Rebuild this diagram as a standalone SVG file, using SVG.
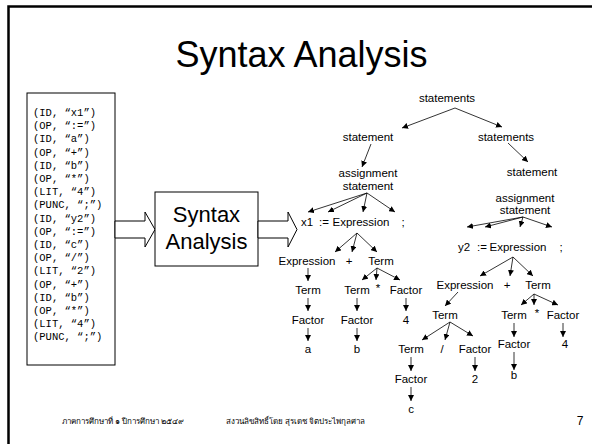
<svg xmlns="http://www.w3.org/2000/svg" width="592" height="444" viewBox="0 0 592 444">
<defs>
<marker id="ah" markerUnits="userSpaceOnUse" markerWidth="7" markerHeight="6" refX="6" refY="3" orient="auto">
<path d="M0,0 L6,3 L0,6 Z" fill="#000"/>
</marker>
<style>
.t{font-family:"Liberation Sans",Arial,sans-serif;font-size:11.5px;fill:#000;text-anchor:middle}
.m{font-family:"Liberation Mono","Courier New",monospace;font-size:10.5px;fill:#000}
.c line{stroke:#000;stroke-width:0.8;marker-end:url(#ah)}
.th{font-family:"Noto Sans","DejaVu Sans",sans-serif;font-size:8px;fill:#000}
</style>
</defs>
<rect width="592" height="444" fill="#fff"/>
<path d="M8.5,444 V6.5 H592" fill="none" stroke="#000" stroke-width="2.5"/>
<text x="301.5" y="67" style="font-family:'Liberation Sans',Arial,sans-serif;font-size:36px;text-anchor:middle">Syntax Analysis</text>

<g id="tokens">
<rect x="27" y="93" width="88" height="272" fill="#fff" stroke="#000" stroke-width="1"/>
<text class="m" x="33" y="116">(ID, “x1”)</text>
<text class="m" x="33" y="129.2">(OP, “:=”)</text>
<text class="m" x="33" y="142.4">(ID, “a”)</text>
<text class="m" x="33" y="155.6">(OP, “+”)</text>
<text class="m" x="33" y="168.8">(ID, “b”)</text>
<text class="m" x="33" y="182">(OP, “*”)</text>
<text class="m" x="33" y="195.2">(LIT, “4”)</text>
<text class="m" x="33" y="208.4">(PUNC, “;”)</text>
<text class="m" x="33" y="221.6">(ID, “y2”)</text>
<text class="m" x="33" y="234.8">(OP, “:=”)</text>
<text class="m" x="33" y="248">(ID, “c”)</text>
<text class="m" x="33" y="261.2">(OP, “/”)</text>
<text class="m" x="33" y="274.4">(LIT, “2”)</text>
<text class="m" x="33" y="287.6">(OP, “+”)</text>
<text class="m" x="33" y="300.8">(ID, “b”)</text>
<text class="m" x="33" y="314">(OP, “*”)</text>
<text class="m" x="33" y="327.2">(LIT, “4”)</text>
<text class="m" x="33" y="340.4">(PUNC, “;”)</text>
</g>

<g id="arrow-in"><polygon points="115,221 145,221 145,212 155,229.5 145,247 145,238 115,238" fill="#fff" stroke="#000" stroke-width="1"/></g>
<g id="analyzer">
<rect x="155" y="192" width="103" height="74" fill="#fff" stroke="#000" stroke-width="1"/>
<text x="206.5" y="222" style="font-family:'Liberation Sans',Arial,sans-serif;font-size:22px;text-anchor:middle">Syntax</text>
<text x="206.5" y="249" style="font-family:'Liberation Sans',Arial,sans-serif;font-size:22px;text-anchor:middle">Analysis</text>
</g>
<g id="arrow-out"><polygon points="258,221 288,221 288,212 297,229.5 288,247 288,238 258,238" fill="#fff" stroke="#000" stroke-width="1"/></g>

<g id="tree">
<text class="t" x="447" y="102">statements</text>
<text class="t" x="368" y="141">statement</text>
<text class="t" x="506" y="141">statements</text>
<text class="t" x="368" y="177">assignment</text>
<text class="t" x="368" y="190">statement</text>
<text class="t" x="532" y="176">statement</text>
<text class="t" x="525" y="202">assignment</text>
<text class="t" x="525" y="214">statement</text>
<text class="t" x="307" y="226">x1</text>
<text class="t" x="324" y="226">:=</text>
<text class="t" x="361" y="226">Expression</text>
<text class="t" x="403" y="226">;</text>
<text class="t" x="307" y="265">Expression</text>
<text class="t" x="349" y="265">+</text>
<text class="t" x="381" y="265">Term</text>
<text class="t" x="308" y="294">Term</text>
<text class="t" x="357" y="294">Term</text>
<text class="t" x="378" y="292">*</text>
<text class="t" x="406" y="294">Factor</text>
<text class="t" x="308" y="324">Factor</text>
<text class="t" x="357" y="324">Factor</text>
<text class="t" x="406" y="324">4</text>
<text class="t" x="308" y="353">a</text>
<text class="t" x="357" y="353">b</text>
<text class="t" x="464" y="251">y2</text>
<text class="t" x="482" y="251">:=</text>
<text class="t" x="518" y="251">Expression</text>
<text class="t" x="561" y="251">;</text>
<text class="t" x="465" y="289">Expression</text>
<text class="t" x="507" y="289">+</text>
<text class="t" x="538" y="289">Term</text>
<text class="t" x="445" y="319">Term</text>
<text class="t" x="514" y="319">Term</text>
<text class="t" x="537" y="317">*</text>
<text class="t" x="563" y="319">Factor</text>
<text class="t" x="411" y="353">Term</text>
<text class="t" x="442" y="353">/</text>
<text class="t" x="475" y="353">Factor</text>
<text class="t" x="514" y="348">Factor</text>
<text class="t" x="565" y="348">4</text>
<text class="t" x="411" y="383">Factor</text>
<text class="t" x="475" y="383">2</text>
<text class="t" x="514" y="379">b</text>
<text class="t" x="411" y="413">c</text>
</g>

<g id="connectors" class="c">
<line x1="455" y1="108" x2="402" y2="128"/>
<line x1="455" y1="108" x2="502" y2="127"/>
<line x1="371" y1="144" x2="362" y2="167"/>
<line x1="367" y1="193" x2="308" y2="212"/>
<line x1="367" y1="193" x2="328" y2="212"/>
<line x1="367" y1="193" x2="363" y2="212"/>
<line x1="367" y1="193" x2="395" y2="212"/>
<line x1="508" y1="143" x2="528" y2="162"/>
<line x1="523" y1="217" x2="467" y2="227"/>
<line x1="523" y1="217" x2="485" y2="227"/>
<line x1="523" y1="217" x2="520" y2="227"/>
<line x1="523" y1="217" x2="552" y2="227"/>
<line x1="357" y1="233" x2="335" y2="252"/>
<line x1="357" y1="233" x2="352" y2="252"/>
<line x1="357" y1="233" x2="377" y2="252"/>
<line x1="308" y1="268" x2="308" y2="281"/>
<line x1="308" y1="298" x2="308" y2="311"/>
<line x1="308" y1="328" x2="308" y2="341"/>
<line x1="377" y1="268" x2="362" y2="280"/>
<line x1="377" y1="268" x2="376" y2="280"/>
<line x1="377" y1="268" x2="400" y2="280"/>
<line x1="357" y1="298" x2="357" y2="311"/>
<line x1="357" y1="328" x2="357" y2="341"/>
<line x1="406" y1="298" x2="406" y2="311"/>
<line x1="513" y1="257" x2="480" y2="276"/>
<line x1="513" y1="257" x2="510" y2="276"/>
<line x1="513" y1="257" x2="533" y2="276"/>
<line x1="458" y1="292" x2="445" y2="306"/>
<line x1="450" y1="322" x2="422" y2="340"/>
<line x1="450" y1="322" x2="445" y2="340"/>
<line x1="450" y1="322" x2="473" y2="336"/>
<line x1="411" y1="357" x2="411" y2="371"/>
<line x1="411" y1="387" x2="411" y2="401"/>
<line x1="475" y1="357" x2="475" y2="371"/>
<line x1="534" y1="294" x2="521" y2="305"/>
<line x1="534" y1="294" x2="534" y2="305"/>
<line x1="534" y1="294" x2="558" y2="305"/>
<line x1="514" y1="323" x2="514" y2="337"/>
<line x1="514" y1="352" x2="514" y2="370"/>
<line x1="563" y1="323" x2="563" y2="337"/>
</g>

<g id="footer">
<text class="th" x="62" y="424">ภาคการศึกษาที่ ๑ ปีการศึกษา ๒๕๔๙</text>
<text class="th" x="226" y="424">สงวนลิขสิทธิ์โดย สุรเดช จิตประไพกุลศาล</text>
<text x="580" y="425" style="font-family:'Liberation Sans',Arial,sans-serif;font-size:12px;text-anchor:middle">7</text>
</g>
</svg>
